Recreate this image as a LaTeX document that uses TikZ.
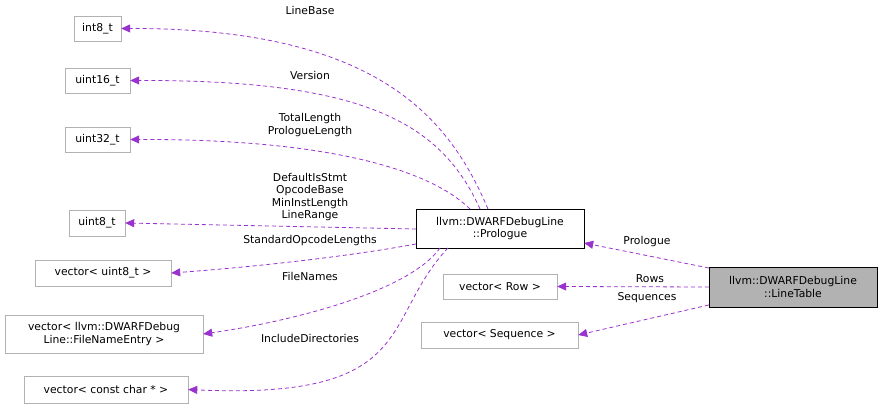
\documentclass[tikz,border=0pt]{standalone}
\usepackage{fontspec}
\setmainfont{DejaVu Sans}
\usetikzlibrary{arrows.meta}
\definecolor{edgec}{HTML}{9A32CD}
\begin{document}
\begin{tikzpicture}[x=1pt,y=-1pt,
  box/.style={draw=#1,fill=white,font=\fontsize{10.8}{12.5}\selectfont,inner sep=0pt,anchor=center,align=center},
  box/.default={black!30},
  edge/.style={draw=edgec,line width=0.8pt,dash pattern=on 4pt off 3pt,-{Triangle[length=9pt,width=8pt]},color=edgec},
  lab/.style={font=\fontsize{10.8}{12.5}\selectfont,align=center}]
\useasboundingbox (0,0) rectangle (883,411);
\node[box,minimum width=47,minimum height=25] (i8) at (97.5,28.5) {int8\_t};
\node[box,minimum width=65,minimum height=25] (u16) at (97.5,80.5) {uint16\_t};
\node[box,minimum width=65,minimum height=25] (u32) at (97.5,139.5) {uint32\_t};
\node[box,minimum width=56,minimum height=26] (u8) at (97,223) {uint8\_t};
\node[box,minimum width=136,minimum height=26] (vu8) at (103,273) {vector< uint8\_t >};
\node[box,minimum width=198,minimum height=38] (vfn) at (104,334) {vector< llvm::DWARFDebug\\Line::FileNameEntry >};
\node[box,minimum width=164,minimum height=27] (vcc) at (106,389.5) {vector< const char * >};
\node[box=black,minimum width=168,minimum height=39] (pro) at (500,228.5) {llvm::DWARFDebugLine\\::Prologue};
\node[box=black,fill=black!30,minimum width=168,minimum height=40] (lt) at (793,287) {llvm::DWARFDebugLine\\::LineTable};
\node[box,minimum width=114,minimum height=25] (vr) at (500,286.5) {vector< Row >};
\node[box,minimum width=157,minimum height=26] (vs) at (499.5,335) {vector< Sequence >};
\coordinate (p1) at (488,209);
\coordinate (p2) at (480,209);
\coordinate (p3) at (470,209);
\draw[edge] (p1) .. controls (450,120) and (380,28) .. (i8.east);
\draw[edge] (p2) .. controls (440,120) and (360,80) .. (u16.east);
\draw[edge] (p3) .. controls (430,170) and (330,139) .. (u32.east);
\draw[edge] (pro.west |- 0,229) -- (u8.east);
\draw[edge] (416,244) .. controls (340,258) and (240,268) .. (vu8.east);
\draw[edge] (440,248) .. controls (410,290) and (300,320) .. (vfn.east);
\draw[edge] (448,248) .. controls (380,320) and (420,400) .. (vcc.east);
\draw[edge] (lt.west |- 0,268) -- (pro.east |- 0,243);
\draw[edge] (lt.west |- 0,287) -- (vr.east);
\draw[edge] (lt.west |- 0,305) -- (vs.east);
\node[lab] at (310,10) {LineBase};
\node[lab] at (310,75) {Version};
\node[lab] at (310,125) {TotalLength\\PrologueLength};
\node[lab] at (310,197) {DefaultIsStmt\\OpcodeBase\\MinInstLength\\LineRange};
\node[lab] at (310,241) {StandardOpcodeLengths};
\node[lab] at (310,276) {FileNames};
\node[lab] at (310,338) {IncludeDirectories};
\node[lab] at (647,242) {Prologue};
\node[lab] at (650,279) {Rows};
\node[lab] at (647,298) {Sequences};
\end{tikzpicture}
\end{document}
